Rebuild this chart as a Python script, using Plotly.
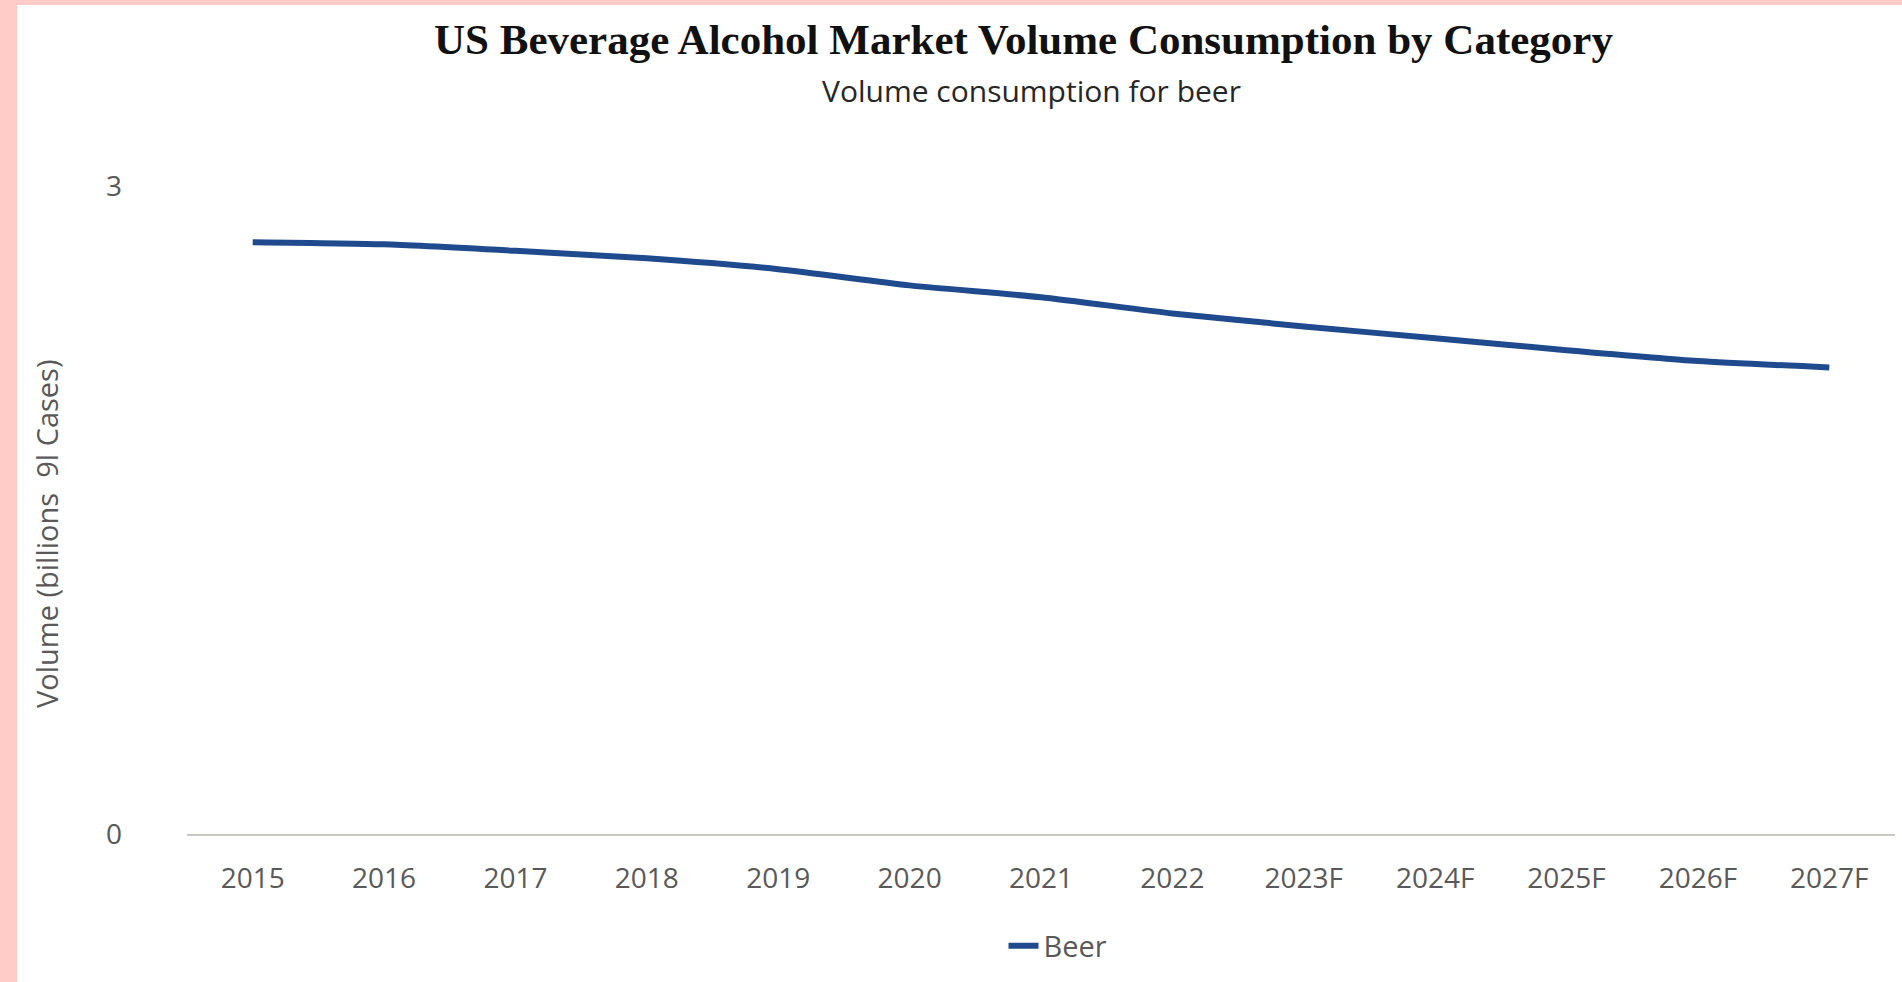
import plotly.graph_objects as go

years = ["2015", "2016", "2017", "2018", "2019", "2020", "2021", "2022",
         "2023F", "2024F", "2025F", "2026F", "2027F"]
beer = [2.74, 2.73, 2.70, 2.665, 2.615, 2.54, 2.485, 2.41, 2.35, 2.295, 2.24, 2.19, 2.16]
y_ticks = [0, 3]

W, H = 1902, 982
L, R, T, B = 187, 7, 186, 148
PW, PH = W - L - R, H - T - B


def px(x):
    return (x - L) / PW


def py(y):
    return (H - B - y) / PH


fig = go.Figure()
fig.add_trace(go.Scatter(
    x=years, y=beer, mode="lines", name="Beer",
    line=dict(color="#1F4B8E", width=6, shape="spline", smoothing=0.6),
))

fig.update_layout(
    width=W, height=H,
    margin=dict(l=L, r=R, t=T, b=B, pad=0),
    paper_bgcolor="#FFCCC7",
    plot_bgcolor="white",
    font=dict(family="Open Sans", color="#595959"),
    showlegend=True,
    legend=dict(orientation="h", x=px(1058), y=py(946), xanchor="center", yanchor="middle",
                font=dict(size=29, color="#595959"), bgcolor="rgba(0,0,0,0)"),
    xaxis=dict(
        type="category", range=[-0.5, 12.5], showgrid=False, zeroline=False,
        showline=True, linecolor="#C9C9C1", linewidth=2, ticks="",
        tickfont=dict(size=28, color="#595959"), ticklabelstandoff=18,
    ),
    yaxis=dict(
        range=[0, 3], tickvals=y_ticks, showgrid=False, zeroline=False, showline=False,
        ticks="", tickfont=dict(size=28, color="#595959"), ticklabelstandoff=64,
    ),
    shapes=[dict(type="rect", xref="paper", yref="paper", layer="below",
                 x0=px(17), x1=px(W + 5), y0=py(H + 5), y1=py(5),
                 fillcolor="white", line=dict(width=0))],
    annotations=[
        dict(text="<b>US Beverage Alcohol Market Volume Consumption by Category</b>",
             xref="paper", yref="paper", x=px(1023), y=py(39), xanchor="center", yanchor="middle",
             showarrow=False, font=dict(family="Liberation Serif", size=43, color="#111111")),
        dict(text="Volume consumption for beer",
             xref="paper", yref="paper", x=px(1031), y=py(90), xanchor="center", yanchor="middle",
             showarrow=False, font=dict(family="Open Sans", size=30, color="#262626")),
        dict(text="Volume (billions&nbsp; 9l Cases)", textangle=-90,
             xref="paper", yref="paper", x=px(46), y=py(534), xanchor="center", yanchor="middle",
             showarrow=False, font=dict(family="Open Sans", size=29, color="#595959")),
    ],
)

fig.write_html("out.html")
